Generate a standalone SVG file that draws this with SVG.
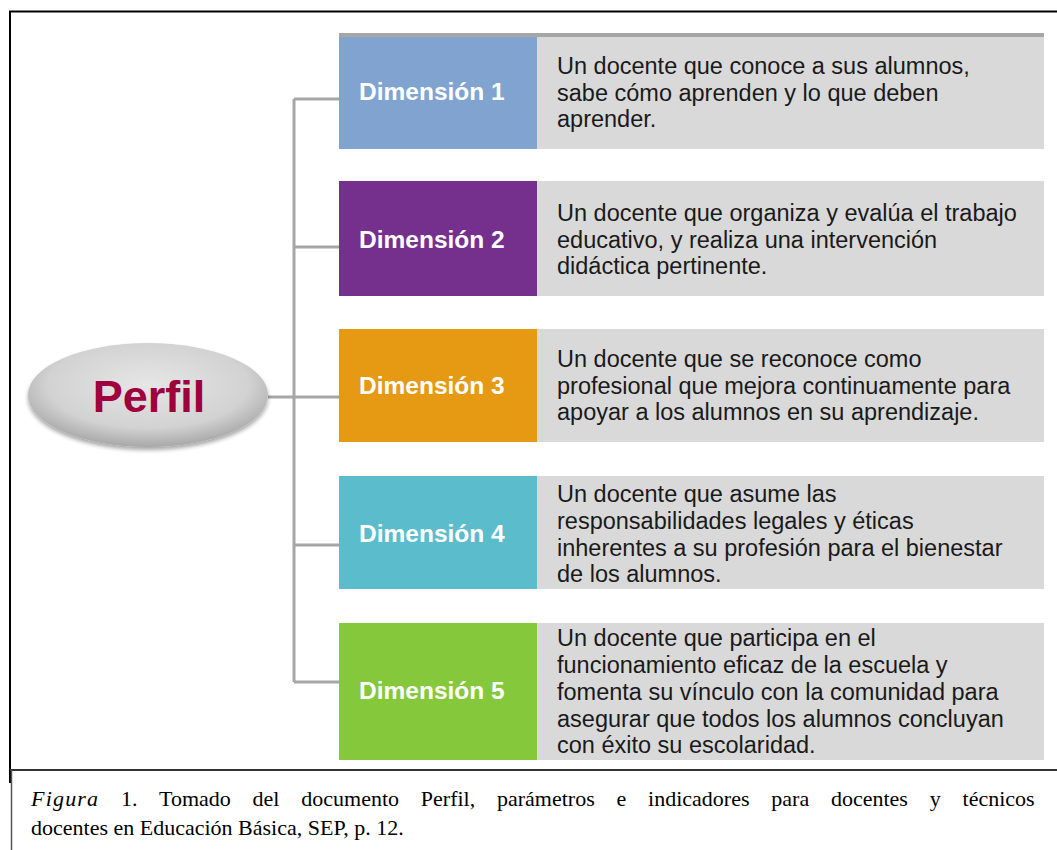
<svg xmlns="http://www.w3.org/2000/svg" width="1057" height="850" viewBox="0 0 1057 850">
<defs>
<radialGradient id="eg" cx="0.5" cy="0.4" r="0.6">
<stop offset="0" stop-color="#e6e6e6"/>
<stop offset="0.7" stop-color="#d2d2d2"/>
<stop offset="1" stop-color="#a8a8a8"/>
</radialGradient>
<filter id="sh" x="-20%" y="-20%" width="140%" height="150%">
<feGaussianBlur in="SourceAlpha" stdDeviation="2"/>
<feOffset dx="0" dy="3"/>
<feComponentTransfer><feFuncA type="linear" slope="0.35"/></feComponentTransfer>
<feMerge><feMergeNode/><feMergeNode in="SourceGraphic"/></feMerge>
</filter>
</defs>
<style>
.lbl{font-family:"Liberation Sans",Arial,sans-serif;font-weight:bold;font-size:24.5px;fill:#ffffff}
.desc{font-family:"Liberation Sans",Arial,sans-serif;font-size:23.5px;fill:#1a1a1a}
.desc-bg{fill:#d9d9d9}
.conn{stroke:#a6a6a6;stroke-width:3;fill:none}
.cap{font-family:"Liberation Serif","Times New Roman",serif;font-size:22px;fill:#000}
</style>
<rect width="1057" height="850" fill="#ffffff"/>
<g id="frame">
<line x1="9" y1="11.5" x2="1057" y2="11.5" stroke="#000" stroke-width="2"/>
<line x1="10" y1="11" x2="10" y2="783" stroke="#000" stroke-width="2"/>
<line x1="10" y1="770" x2="1057" y2="770" stroke="#333" stroke-width="2"/>
<line x1="11.5" y1="770" x2="11.5" y2="850" stroke="#555" stroke-width="1.5"/>
</g>
<g id="connectors">
<path class="conn" d="M294 99 V682"/>
<path class="conn" d="M294 99 H339 M294 247 H339 M268 397 H339 M294 545 H339 M294 682 H339"/>
</g>
<g id="perfil">
<ellipse cx="148" cy="395" rx="120" ry="52" fill="url(#eg)" filter="url(#sh)"/>
<text x="149" y="412" text-anchor="middle" font-family="'Liberation Sans',Arial,sans-serif" font-weight="bold" font-size="45" fill="#a0003c">Perfil</text>
</g>
<g id="dim1">
<rect x="339" y="33" width="705" height="116" class="desc-bg"/>
<rect x="339" y="33" width="705" height="4" fill="#a6a6a6"/>
<rect x="339" y="37" width="198" height="112" fill="#80a4cf"/>
<text class="lbl" x="359" y="100">Dimensión 1</text>
<text class="desc"><tspan x="557" y="74">Un docente que conoce a sus alumnos,</tspan><tspan x="557" y="101">sabe cómo aprenden y lo que deben</tspan><tspan x="557" y="127">aprender.</tspan></text>
</g>
<g id="dim2">
<rect x="339" y="181" width="705" height="115" class="desc-bg"/>
<rect x="339" y="181" width="198" height="115" fill="#75308e"/>
<text class="lbl" x="359" y="248">Dimensión 2</text>
<text class="desc"><tspan x="557" y="221">Un docente que organiza y evalúa el trabajo</tspan><tspan x="557" y="248">educativo, y realiza una intervención</tspan><tspan x="557" y="274">didáctica pertinente.</tspan></text>
</g>
<g id="dim3">
<rect x="339" y="329" width="705" height="113" class="desc-bg"/>
<rect x="339" y="329" width="198" height="113" fill="#e69a14"/>
<text class="lbl" x="359" y="394">Dimensión 3</text>
<text class="desc"><tspan x="557" y="367">Un docente que se reconoce como</tspan><tspan x="557" y="394">profesional que mejora continuamente para</tspan><tspan x="557" y="420">apoyar a los alumnos en su aprendizaje.</tspan></text>
</g>
<g id="dim4">
<rect x="339" y="476" width="705" height="113" class="desc-bg"/>
<rect x="339" y="476" width="198" height="113" fill="#5bbccb"/>
<text class="lbl" x="359" y="542">Dimensión 4</text>
<text class="desc"><tspan x="557" y="502">Un docente que asume las</tspan><tspan x="557" y="529">responsabilidades legales y éticas</tspan><tspan x="557" y="556">inherentes a su profesión para el bienestar</tspan><tspan x="557" y="582">de los alumnos.</tspan></text>
</g>
<g id="dim5">
<rect x="339" y="623" width="705" height="137" class="desc-bg"/>
<rect x="339" y="623" width="198" height="137" fill="#86c83b"/>
<text class="lbl" x="359" y="699">Dimensión 5</text>
<text class="desc"><tspan x="557" y="646">Un docente que participa en el</tspan><tspan x="557" y="673">funcionamiento eficaz de la escuela y</tspan><tspan x="557" y="700">fomenta su vínculo con la comunidad para</tspan><tspan x="557" y="727">asegurar que todos los alumnos concluyan</tspan><tspan x="557" y="753">con éxito su escolaridad.</tspan></text>
</g>
<g id="caption">
<text class="cap" x="31" y="806" word-spacing="16.3"><tspan font-style="italic" letter-spacing="1.2">Figura</tspan> 1. Tomado del documento Perfil, parámetros e indicadores para docentes y técnicos</text>
<text class="cap" x="31" y="835">docentes en Educación Básica, SEP, p. 12.</text>
</g>
</svg>
